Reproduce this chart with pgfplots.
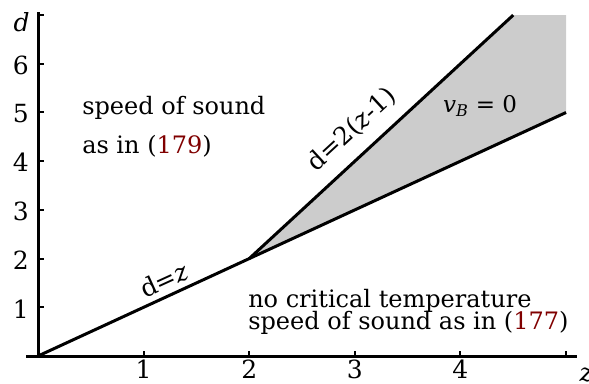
\documentclass[border=0pt]{standalone}
\usepackage{pgfplots}
\pgfplotsset{compat=1.18}
\usepackage{fontspec}
\setmainfont{DejaVu Serif}
\definecolor{eqred}{RGB}{128,0,0}
\definecolor{phasegray}{RGB}{204,204,204}
\newcommand\annot{\fontsize{24}{28}\selectfont}
\begin{document}
\begin{tikzpicture}
\useasboundingbox (0,0) rectangle (589pt,383pt);
\begin{axis}[
  at={(26pt,27pt)}, anchor=south west,
  x=105.6pt, y=48.7pt,
  xmin=-0.114, xmax=5.10, ymin=0, ymax=7.06,
  axis lines=middle,
  axis line style={-, line width=3pt},
  clip=false,
  xtick={1,2,3,4,5}, xticklabels={1,2,3,4,{}},
  ytick={1,2,3,4,5,6,7}, yticklabels={1,2,3,4,5,6,{}},
  tick align=inside,
  major tick length=5.5pt,
  tick style={line width=2pt, black},
  /pgf/number format/assume math mode=true,
  ticklabel style={font=\fontsize{25}{28}\selectfont},
  xticklabel style={inner sep=0pt, anchor=north, yshift=-4pt},
  yticklabel style={inner sep=0pt, anchor=east, xshift=-9pt, yshift=-1.5pt},
]
% region where v_B = 0
\addplot[fill=phasegray, draw=none] coordinates {(2,2) (4.5,7) (5,7) (5,5)} -- cycle;
% boundary lines
\addplot[black, line width=3pt] coordinates {(0,0) (2,2) (5,5)};
\addplot[black, line width=3pt] coordinates {(2,2) (4.5,7)};

% axis names
\node[font=\fontsize{25}{28}\selectfont\itshape] at (axis cs:-0.156,6.86) {d};
\node[font=\fontsize{25}{28}\selectfont\itshape, anchor=north, inner sep=0pt] at (axis cs:5.19,-0.25) {z};

% labels of the boundaries
\node[font=\fontsize{25}{28}\selectfont, rotate=24.6] at (axis cs:1.193,1.561) {d=\textit{z}};
\node[font=\fontsize{25}{28}\selectfont, rotate=42.7] at (axis cs:2.973,4.641) {d=2(\textit{z}-1)};
\node[font=\fontsize{23}{28}\selectfont] at (axis cs:4.186,5.133) {\textit{v}\textsubscript{\textit{B}} = 0};

% regions
\node[font=\annot, anchor=base west, inner sep=0pt] at (axis cs:0.417,4.969) {speed of sound};
\node[font=\annot, anchor=base west, inner sep=0pt] at (axis cs:0.417,4.148) {as in (\textcolor{eqred}{179})};
\node[font=\annot, anchor=base west, inner sep=0pt] at (axis cs:1.989,1.006) {no critical temperature};
\node[font=\annot, anchor=base west, inner sep=0pt] at (axis cs:1.989,0.554) {speed of sound as in (\textcolor{eqred}{177})};
\end{axis}
\end{tikzpicture}
\end{document}
